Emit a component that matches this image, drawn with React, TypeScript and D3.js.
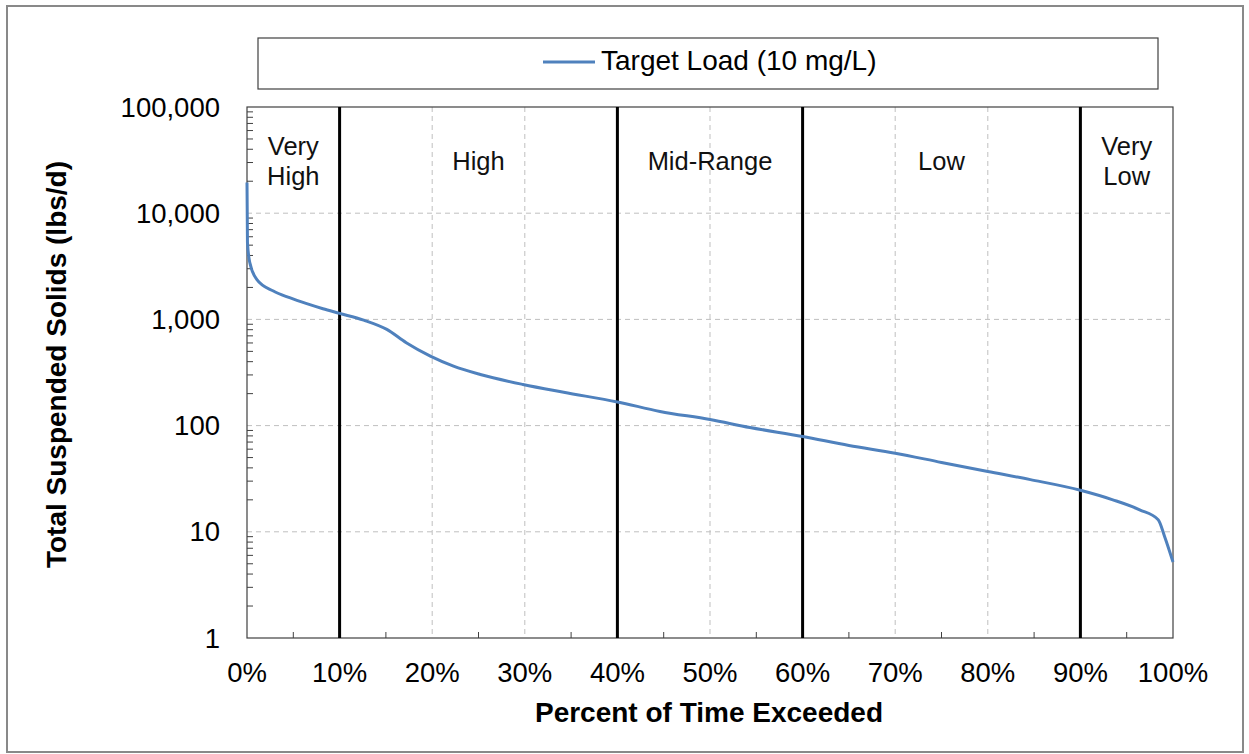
import React from "react";
import * as d3 from "d3";

const pctExceeded = [0, 0.05, 0.3, 1.05, 2.85, 4.6, 6.45, 8.2, 10, 12.6, 15.1, 17.2, 19.8, 22.3, 25.2, 29.8, 34.2, 40, 44.6, 50, 54.3, 60, 65, 70, 75, 80, 84.6, 90, 93.5, 96.4, 98.4, 99.1, 100];
const targetLoad = [19500, 5300, 3430, 2385, 1850, 1600, 1406, 1260, 1140, 985, 805, 603, 451, 363, 303, 244, 206, 167, 136, 114, 96, 79, 65, 55, 45, 37, 31, 24.6, 20, 16.1, 13, 9.0, 5.2];

const xTicks = [0, 10, 20, 30, 40, 50, 60, 70, 80, 90, 100];
const yTicks = [1, 10, 100, 1000, 10000, 100000];
const zoneBounds = [10, 40, 60, 90];
const zoneLabels = [
  { lines: ["Very", "High"], x: 5 },
  { lines: ["High"], x: 25 },
  { lines: ["Mid-Range"], x: 50 },
  { lines: ["Low"], x: 75 },
  { lines: ["Very", "Low"], x: 95 },
];
const seriesName = "Target Load (10 mg/L)";

const W = 1249;
const H = 754;
const L = 247, R = 1173, T = 107, B = 638;
const FONT = "'Liberation Sans', Arial, sans-serif";

export default function App() {
  const x = d3.scaleLinear().domain([0, 100]).range([L, R]);
  const y = d3.scaleLog().domain([1, 100000]).range([B, T]);
  const line = d3
    .line<number>()
    .x((_, i) => x(pctExceeded[i]))
    .y((d) => y(d))
    .curve(d3.curveMonotoneX);

  const minorY: number[] = [];
  for (let e = 0; e < 5; e++) {
    for (let k = 2; k <= 9; k++) minorY.push(k * Math.pow(10, e));
  }
  const minorX = d3.range(5, 100, 10);

  return (
    <svg
      width={W}
      height={H}
      style={{ position: "absolute", left: 0, top: 0, background: "#fff" }}
      fontFamily={FONT}
    >
      <rect x={7} y={6} width={1236} height={746} fill="#fff" stroke="#898989" strokeWidth={2} />
      {/* legend */}
      <rect x={258} y={38} width={900} height={51} fill="#fff" stroke="#404040" strokeWidth={1.2} />
      <line x1={543} x2={595} y1={62} y2={62} stroke="#4F81BD" strokeWidth={3} />
      <text x={601} y={70} fontSize={28} fill="#000">{seriesName}</text>

      {/* gridlines */}
      {yTicks.slice(1, -1).map((t) => (
        <line key={"gy" + t} x1={L} x2={R} y1={y(t)} y2={y(t)} stroke="#bfbfbf" strokeDasharray="5,4" strokeWidth={1} />
      ))}
      {xTicks.slice(1, -1).filter((t) => !zoneBounds.includes(t)).map((t) => (
        <line key={"gx" + t} x1={x(t)} x2={x(t)} y1={T} y2={B} stroke="#bfbfbf" strokeDasharray="5,4" strokeWidth={1} />
      ))}

      {/* minor ticks */}
      {minorY.map((t) => (
        <line key={"my" + t} x1={L} x2={L + 6} y1={y(t)} y2={y(t)} stroke="#404040" strokeWidth={1} />
      ))}
      {minorX.map((t) => (
        <line key={"mx" + t} x1={x(t)} x2={x(t)} y1={B} y2={B - 6} stroke="#404040" strokeWidth={1} />
      ))}

      {/* plot border */}
      <rect x={L} y={T} width={R - L} height={B - T} fill="none" stroke="#404040" strokeWidth={1.2} />

      {/* zone boundaries */}
      {zoneBounds.map((t) => (
        <line key={"zb" + t} x1={x(t)} x2={x(t)} y1={T} y2={B} stroke="#000" strokeWidth={3} />
      ))}

      {/* zone labels */}
      {zoneLabels.map((z) =>
        z.lines.length === 2 ? (
          <text key={z.x} x={x(z.x)} textAnchor="middle" fontSize={25.5} fill="#111">
            <tspan x={x(z.x)} y={155}>{z.lines[0]}</tspan>
            <tspan x={x(z.x)} y={185}>{z.lines[1]}</tspan>
          </text>
        ) : (
          <text key={z.x} x={x(z.x)} y={170} textAnchor="middle" fontSize={25.5} fill="#111">
            {z.lines[0]}
          </text>
        )
      )}

      {/* series */}
      <path d={line(targetLoad) || ""} fill="none" stroke="#4F81BD" strokeWidth={3} strokeLinejoin="round" />

      {/* y tick labels */}
      {yTicks.map((t) => (
        <text key={"yl" + t} x={220} y={y(t) + 9.5} textAnchor="end" fontSize={27.5} fill="#000">
          {d3.format(",")(t)}
        </text>
      ))}
      {/* x tick labels */}
      {xTicks.map((t) => (
        <text key={"xl" + t} x={x(t)} y={682} textAnchor="middle" fontSize={27.5} fill="#000">
          {t + "%"}
        </text>
      ))}

      {/* axis titles */}
      <text x={(L + R) / 2 - 1} y={722} textAnchor="middle" fontSize={28} fontWeight="bold" fill="#000">
        Percent of Time Exceeded
      </text>
      <text
        transform={`translate(66, ${(T + B) / 2 - 8}) rotate(-90)`}
        textAnchor="middle"
        fontSize={28}
        fontWeight="bold"
        fill="#000"
      >
        Total Suspended Solids (lbs/d)
      </text>
    </svg>
  );
}
